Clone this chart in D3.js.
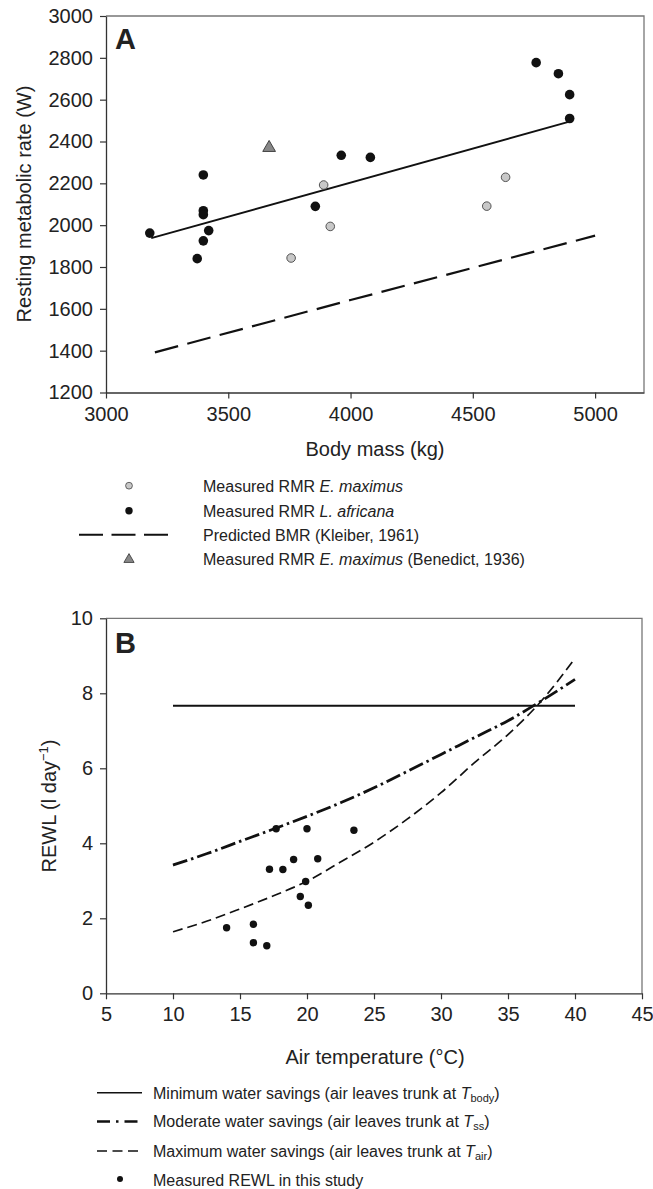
<!DOCTYPE html>
<html lang="en">
<head>
<meta charset="UTF-8">
<title>RMR and REWL</title>
<script src="https://cdn.jsdelivr.net/npm/d3@7"></script>
<style>
  body { margin: 0; background: #fff; }
  text { font-family: "Liberation Sans", Arial, sans-serif; fill: #222; }
</style>
</head>
<body>
<script>
// ---- panel A data ----
var maximusMass   = [3757, 3890, 3917, 4557, 4634],
    maximusRMR    = [1843, 2192, 1994, 2091, 2229];
var africanaMass  = [3179, 3373, 3398, 3398, 3398, 3420, 3398, 3856, 3962, 4081, 4759, 4850, 4896, 4896],
    africanaRMR   = [1962, 1840, 2240, 2069, 2050, 1974, 1925, 2090, 2334, 2324, 2777, 2724, 2624, 2510];
var benedictMass  = [3667],
    benedictRMR   = [2370];
var fitMass       = [3185, 4895],
    fitRMR        = [1938, 2495];
var kleiberMass   = [3200, 4000, 5000],
    kleiberBMR    = [1392, 1642, 1950];
var massTicks     = [3000, 3500, 4000, 4500, 5000],
    rmrTicks      = [1200, 1400, 1600, 1800, 2000, 2200, 2400, 2600, 2800, 3000];

// ---- panel B data ----
var curveTemp     = [10, 12.5, 15, 17.5, 20, 22.5, 25, 27.5, 30, 32.5, 35, 37.5, 40];
var minSavings    = [7.67, 7.67, 7.67, 7.67, 7.67, 7.67, 7.67, 7.67, 7.67, 7.67, 7.67, 7.67, 7.67],
    modSavings    = [3.42, 3.72, 4.05, 4.38, 4.72, 5.08, 5.48, 5.92, 6.37, 6.82, 7.27, 7.8, 8.37],
    maxSavings    = [1.64, 1.92, 2.25, 2.6, 2.99, 3.5, 4.03, 4.65, 5.35, 6.15, 6.9, 7.8, 8.93];
var measTemp      = [14.0, 16.0, 16.0, 17.0, 17.2, 17.7, 18.2, 19.0, 19.5, 19.9, 20.0, 20.1, 20.8, 23.5],
    measREWL      = [1.75, 1.84, 1.35, 1.27, 3.31, 4.39, 3.30, 3.57, 2.58, 2.98, 4.39, 2.35, 3.59, 4.35];
var tempTicks     = [5, 10, 15, 20, 25, 30, 35, 40, 45],
    rewlTicks     = [0, 2, 4, 6, 8, 10];

var svg = d3.select('body').append('svg')
    .attr('width', 653)
    .attr('height', 1189);

function zip(a, b) { return a.map(function(d, i) { return [d, b[i]]; }); }

function drawAxes(x, y, xt, yt) {
  var x0 = x.range()[0], x1 = x.range()[1], y0 = y.range()[0], y1 = y.range()[1];
  // grey frame top/right
  svg.append('path')
    .attr('d', 'M' + x0 + ',' + y1 + 'H' + x1 + 'V' + y0)
    .attr('fill', 'none').attr('stroke', '#777').attr('stroke-width', 1.3);

  var gx = svg.append('g')
    .attr('transform', 'translate(0,' + y0 + ')')
    .call(d3.axisBottom(x).tickValues(xt).tickFormat(d3.format('d'))
      .tickSize(6).tickSizeOuter(0).tickPadding(8));
  var gy = svg.append('g')
    .attr('transform', 'translate(' + x0 + ',0)')
    .call(d3.axisLeft(y).tickValues(yt).tickFormat(d3.format('d'))
      .tickSize(6).tickSizeOuter(0).tickPadding(7));
  [gx, gy].forEach(function(g) {
    g.select('.domain').attr('stroke', '#333').attr('stroke-width', 1.3);
    g.selectAll('.tick line').attr('stroke', '#333').attr('stroke-width', 1.2);
    g.selectAll('.tick text').attr('font-size', 20).attr('fill', '#222')
      .attr('font-family', '"Liberation Sans", Arial, sans-serif');
  });
}

// ================= Panel A =================
var xA = d3.scaleLinear().domain([3000, 5200]).range([106, 644]),
    yA = d3.scaleLinear().domain([1200, 3000]).range([392.5, 16]);

drawAxes(xA, yA, massTicks, rmrTicks);

var lineA = d3.line().x(function(d) { return xA(d[0]); }).y(function(d) { return yA(d[1]); });

svg.append('path')
  .datum(zip(kleiberMass, kleiberBMR))
  .attr('d', lineA)
  .attr('fill', 'none').attr('stroke', '#111').attr('stroke-width', 2.2)
  .attr('stroke-dasharray', '24,9.5');

svg.append('path')
  .datum(zip(fitMass, fitRMR))
  .attr('d', lineA)
  .attr('fill', 'none').attr('stroke', '#111').attr('stroke-width', 2);

svg.append('g').selectAll('circle')
    .data(zip(maximusMass, maximusRMR))
  .enter().append('circle')
    .attr('cx', function(d) { return xA(d[0]); })
    .attr('cy', function(d) { return yA(d[1]); })
    .attr('r', 4.3)
    .attr('fill', '#c8c8c8').attr('stroke', '#444').attr('stroke-width', 0.9);

svg.append('g').selectAll('circle')
    .data(zip(africanaMass, africanaRMR))
  .enter().append('circle')
    .attr('cx', function(d) { return xA(d[0]); })
    .attr('cy', function(d) { return yA(d[1]); })
    .attr('r', 4.8)
    .attr('fill', '#111');

var tri = d3.symbol().type(d3.symbolTriangle).size(70);
svg.append('g').selectAll('path')
    .data(zip(benedictMass, benedictRMR))
  .enter().append('path')
    .attr('d', tri)
    .attr('transform', function(d) { return 'translate(' + xA(d[0]) + ',' + yA(d[1]) + ')'; })
    .attr('fill', '#888').attr('stroke', '#333').attr('stroke-width', 0.9);

svg.append('text').attr('x', 115).attr('y', 49)
  .attr('font-size', 29).attr('font-weight', 'bold').attr('fill', '#111').text('A');

svg.append('text').attr('x', 375).attr('y', 456).attr('text-anchor', 'middle')
  .attr('font-size', 20).text('Body mass (kg)');

svg.append('text').attr('transform', 'translate(31,204) rotate(-90)')
  .attr('text-anchor', 'middle').attr('font-size', 20).text('Resting metabolic rate (W)');

// legend A
var legA = svg.append('g').attr('font-size', 16);
legA.append('circle').attr('cx', 129).attr('cy', 485.7).attr('r', 3.4)
  .attr('fill', '#c8c8c8').attr('stroke', '#444').attr('stroke-width', 0.8);
legA.append('circle').attr('cx', 129).attr('cy', 510.7).attr('r', 3.7).attr('fill', '#111');
legA.append('line').attr('x1', 79).attr('x2', 168).attr('y1', 534.7).attr('y2', 534.7)
  .attr('stroke', '#111').attr('stroke-width', 2).attr('stroke-dasharray', '24,8.5');
legA.append('path').attr('d', d3.symbol().type(d3.symbolTriangle).size(45))
  .attr('transform', 'translate(129,559.5)')
  .attr('fill', '#888').attr('stroke', '#333').attr('stroke-width', 0.8);

var t1 = legA.append('text').attr('x', 203).attr('y', 491.5);
t1.append('tspan').text('Measured RMR ');
t1.append('tspan').attr('font-style', 'italic').text('E. maximus');
var t2 = legA.append('text').attr('x', 203).attr('y', 516.5);
t2.append('tspan').text('Measured RMR ');
t2.append('tspan').attr('font-style', 'italic').text('L. africana');
legA.append('text').attr('x', 203).attr('y', 540.5).text('Predicted BMR (Kleiber, 1961)');
var t4 = legA.append('text').attr('x', 203).attr('y', 565);
t4.append('tspan').text('Measured RMR ');
t4.append('tspan').attr('font-style', 'italic').text('E. maximus');
t4.append('tspan').text(' (Benedict, 1936)');

// ================= Panel B =================
var xB = d3.scaleLinear().domain([5, 45]).range([106, 642]),
    yB = d3.scaleLinear().domain([0, 10]).range([993.3, 618.3]);

drawAxes(xB, yB, tempTicks, rewlTicks);

var lineB = d3.line().curve(d3.curveMonotoneX)
  .x(function(d) { return xB(d[0]); }).y(function(d) { return yB(d[1]); });

svg.append('path').datum(zip(curveTemp, minSavings)).attr('d', lineB)
  .attr('fill', 'none').attr('stroke', '#111').attr('stroke-width', 2);
svg.append('path').datum(zip(curveTemp, modSavings)).attr('d', lineB)
  .attr('fill', 'none').attr('stroke', '#111').attr('stroke-width', 2.8)
  .attr('stroke-dasharray', '15,4,2.5,4');
svg.append('path').datum(zip(curveTemp, maxSavings)).attr('d', lineB)
  .attr('fill', 'none').attr('stroke', '#111').attr('stroke-width', 1.7)
  .attr('stroke-dasharray', '10,5');

svg.append('g').selectAll('circle')
    .data(zip(measTemp, measREWL))
  .enter().append('circle')
    .attr('cx', function(d) { return xB(d[0]); })
    .attr('cy', function(d) { return yB(d[1]); })
    .attr('r', 3.7)
    .attr('fill', '#111');

svg.append('text').attr('x', 115).attr('y', 653)
  .attr('font-size', 29).attr('font-weight', 'bold').attr('fill', '#111').text('B');

svg.append('text').attr('x', 375).attr('y', 1064).attr('text-anchor', 'middle')
  .attr('font-size', 20).text('Air temperature (\u00b0C)');

var ty = svg.append('text').attr('transform', 'translate(56,806) rotate(-90)')
  .attr('text-anchor', 'middle').attr('font-size', 20);
ty.append('tspan').text('REWL (l day');
ty.append('tspan').attr('font-size', 13).attr('dy', -8).text('\u22121');
ty.append('tspan').attr('dy', 8).text(')');

// legend B
var legB = svg.append('g').attr('font-size', 16);
legB.append('line').attr('x1', 97).attr('x2', 142).attr('y1', 1092.7).attr('y2', 1092.7)
  .attr('stroke', '#111').attr('stroke-width', 1.6);
legB.append('line').attr('x1', 97).attr('x2', 142).attr('y1', 1121.5).attr('y2', 1121.5)
  .attr('stroke', '#111').attr('stroke-width', 2.4).attr('stroke-dasharray', '13,6,2.5,6');
legB.append('line').attr('x1', 97).attr('x2', 142).attr('y1', 1151).attr('y2', 1151)
  .attr('stroke', '#111').attr('stroke-width', 1.6).attr('stroke-dasharray', '10,5.5');
legB.append('circle').attr('cx', 120).attr('cy', 1179).attr('r', 3).attr('fill', '#111');

function legRow(y, lead, sub) {
  var t = legB.append('text').attr('x', 153).attr('y', y);
  t.append('tspan').text(lead);
  if (sub) {
    t.append('tspan').attr('font-style', 'italic').text('T');
    t.append('tspan').attr('font-size', 11).attr('dy', 3).text(sub);
    t.append('tspan').attr('dy', -3).text(')');
  }
}
legRow(1098.5, 'Minimum water savings (air leaves trunk at ', 'body');
legRow(1127.3, 'Moderate water savings (air leaves trunk at ', 'ss');
legRow(1157, 'Maximum water savings (air leaves trunk at ', 'air');
legRow(1185.5, 'Measured REWL in this study');
</script>
</body>
</html>
